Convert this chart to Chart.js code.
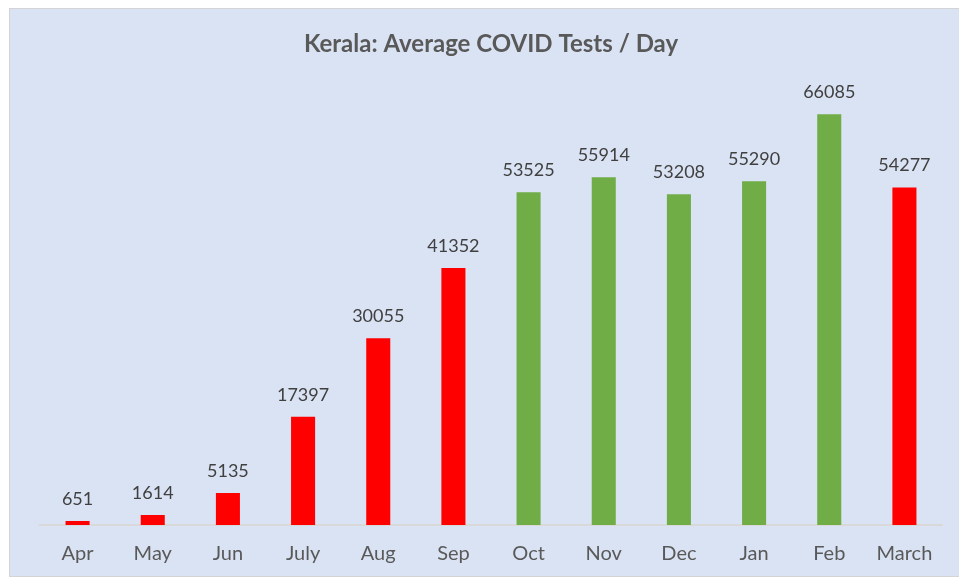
<!DOCTYPE html>
<html>
<head>
<meta charset="utf-8">
<script src="https://cdn.jsdelivr.net/npm/chart.js@4"></script>
<style>
  html, body { margin: 0; padding: 0; background: #ffffff; }
  #wrap {
    position: absolute; left: 9px; top: 8px; width: 950px; height: 569px;
    background: #dae3f3; border: 1px solid #d4d4d4; border-right: none; box-sizing: border-box;
  }
  canvas { display: block; }
</style>
</head>
<body>
<div id="wrap"><canvas id="mychart"></canvas></div>
<script>
const months = ["Apr","May","Jun","July","Aug","Sep","Oct","Nov","Dec","Jan","Feb","March"];
const avgTests = [651,1614,5135,17397,30055,41352,53525,55914,53208,55290,66085,54277];
const barColors = [
  "#ff0000","#ff0000","#ff0000","#ff0000","#ff0000","#ff0000",
  "#70ad47","#70ad47","#70ad47","#70ad47","#70ad47",
  "#ff0000"
];

const valueLabels = {
  id: "valueLabels",
  afterDatasetsDraw(chart) {
    const ctx = chart.ctx;
    const meta = chart.getDatasetMeta(0);
    ctx.save();
    ctx.font = "18px Lato";
    ctx.fillStyle = "#404040";
    ctx.textAlign = "center";
    ctx.textBaseline = "bottom";
    meta.data.forEach((bar, i) => {
      ctx.fillText(String(avgTests[i]), bar.x, bar.y - 13);
    });
    ctx.restore();
  }
};

new Chart("mychart", {
  type: "bar",
  data: {
    labels: months,
    datasets: [{
      data: avgTests,
      backgroundColor: barColors,
      barPercentage: 0.32,
      categoryPercentage: 1.0
    }]
  },
  options: {
    responsive: true,
    maintainAspectRatio: false,
    animation: false,
    layout: { padding: { left: 30, right: 17, top: 11, bottom: 1 } },
    plugins: {
      legend: { display: false },
      tooltip: { enabled: false },
      title: {
        display: true,
        text: "Kerala: Average COVID Tests / Day",
        color: "#595959",
        font: { family: "Lato", size: 24, weight: "bold" },
        padding: { top: 10, bottom: 31 }
      }
    },
    scales: {
      x: {
        grid: { display: false },
        border: { display: true, color: "#d9d9d9", width: 2 },
        ticks: { color: "#595959", font: { family: "Lato", size: 20 }, padding: 9 }
      },
      y: {
        display: false,
        min: 0,
        max: 70000
      }
    }
  },
  plugins: [valueLabels]
});
</script>
</body>
</html>
